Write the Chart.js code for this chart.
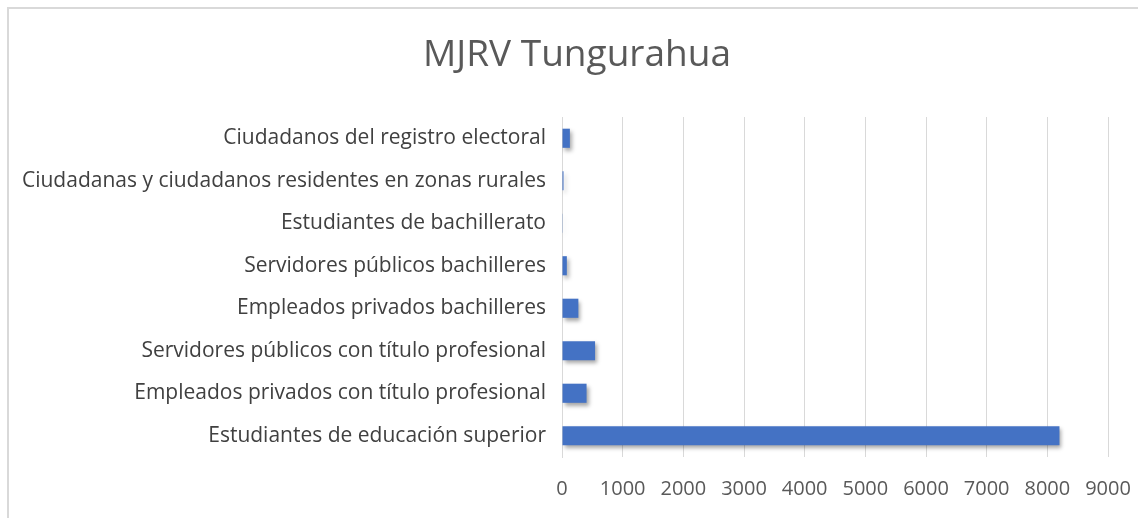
<!DOCTYPE html>
<html>
<head>
<meta charset="utf-8">
<script src="https://cdn.jsdelivr.net/npm/chart.js@4"></script>
<style>
  html, body { margin: 0; padding: 0; background: #fff; }
  #wrap { position: absolute; left: 7px; top: 7px; width: 1140px; height: 520px;
          border-left: 2px solid #d9d9d9; border-top: 2px solid #d9d9d9; }
  #box { position: absolute; left: 0; top: 0; width: 1138px; height: 518px; }
</style>
</head>
<body>
<div id="wrap"></div>
<div id="box"><canvas id="myChart" width="1138" height="518"></canvas></div>
<script>
const titulo = 'MJRV Tungurahua';
const categorias = [
  'Ciudadanos del registro electoral',
  'Ciudadanas y ciudadanos residentes en zonas rurales',
  'Estudiantes de bachillerato',
  'Servidores públicos bachilleres',
  'Empleados privados bachilleres',
  'Servidores públicos con título profesional',
  'Empleados privados con título profesional',
  'Estudiantes de educación superior'
];
const valores = [130, 25, 5, 80, 270, 545, 405, 8200];
const ticksX = [0, 1000, 2000, 3000, 4000, 5000, 6000, 7000, 8000, 9000];

function barGradient(context) {
  const chart = context.chart;
  const el = context.element;
  if (!chart.chartArea || !el || el.y === undefined) return '#4472c4';
  const h = el.height || 19;
  const g = chart.ctx.createLinearGradient(0, el.y - h / 2, 0, el.y + h / 2);
  g.addColorStop(0, '#6590dc');
  g.addColorStop(0.5, '#4472c4');
  g.addColorStop(1, '#2f5fb3');
  return g;
}

// sombra de las barras, como en Excel
const sombra = {
  id: 'sombra',
  beforeDatasetsDraw(chart) {
    const ctx = chart.ctx;
    ctx.save();
    ctx.shadowColor = 'rgba(0,0,0,0.35)';
    ctx.shadowBlur = 4;
    ctx.shadowOffsetX = 2;
    ctx.shadowOffsetY = 3;
  },
  afterDatasetsDraw(chart) {
    chart.ctx.restore();
  }
};

// titulo centrado sobre todo el recuadro
const tituloPlugin = {
  id: 'tituloPlugin',
  afterDraw(chart) {
    const ctx = chart.ctx;
    ctx.save();
    ctx.font = '37px "Open Sans"';
    ctx.fillStyle = '#595959';
    ctx.textAlign = 'center';
    ctx.textBaseline = 'middle';
    ctx.fillText(titulo, 577, 55);
    ctx.restore();
  }
};

const ctx = document.getElementById('myChart').getContext('2d');
const myChart = new Chart(ctx, {
  type: 'bar',
  data: {
    labels: categorias,
    datasets: [{
      data: valores,
      backgroundColor: barGradient,
      borderWidth: 0,
      categoryPercentage: 0.9,
      barPercentage: 0.5
    }]
  },
  plugins: [sombra, tituloPlugin],
  options: {
    indexAxis: 'y',
    responsive: false,
    animation: false,
    layout: { padding: { left: 10, right: 30, top: 117, bottom: 0 } },
    plugins: {
      legend: { display: false },
      tooltip: { enabled: false },
      title: { display: false }
    },
    scales: {
      x: {
        min: 0,
        max: 9000,
        afterBuildTicks(scale) {
          scale.ticks = ticksX.map(v => ({ value: v }));
        },
        afterFit(scale) {
          scale.height = 61;
          scale.paddingLeft = 0;
          scale.paddingRight = 0;
        },
        grid: { color: '#d9d9d9', lineWidth: 1, drawTicks: false },
        border: { display: false },
        ticks: {
          color: '#595959',
          padding: 20,
          maxRotation: 0,
          autoSkip: false,
          callback: v => String(v),
          font: { family: 'Open Sans', size: 20 }
        }
      },
      y: {
        afterFit(scale) { scale.width = 552; },
        grid: { display: false, drawTicks: false },
        border: { display: true, color: '#d9d9d9', width: 1 },
        ticks: {
          color: '#404040',
          padding: 16,
          autoSkip: false,
          font: { family: 'Open Sans', size: 21 }
        }
      }
    }
  }
});
</script>
</body>
</html>
